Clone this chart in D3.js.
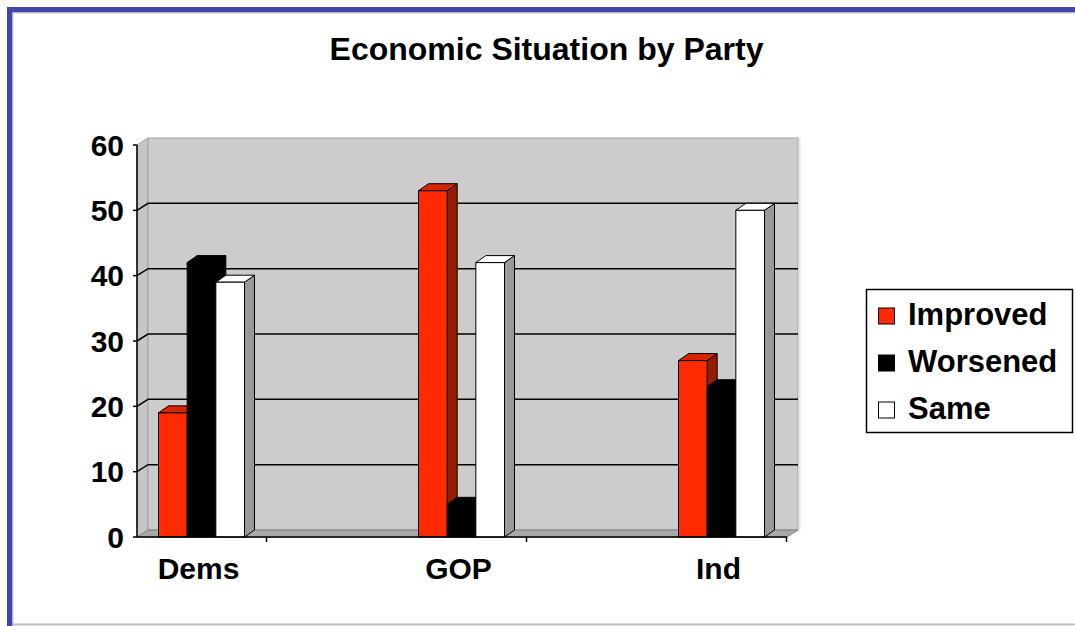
<!DOCTYPE html>
<html>
<head>
<meta charset="utf-8">
<script src="https://cdn.jsdelivr.net/npm/d3@7"></script>
<style>
  body { margin: 0; background: #fff; }
  text { font-family: "Liberation Sans", Arial, sans-serif; font-weight: bold; fill: #000; }
</style>
</head>
<body>
<div id="chart"></div>
<script>
// data
const categories = ["Dems", "GOP", "Ind"];
const seriesNames = ["Improved", "Worsened", "Same"];
const improved = [19, 53, 27];
const worsened = [42, 5, 23];
const same = [39, 42, 50];
const yTicks = [0, 10, 20, 30, 40, 50, 60];
const title = "Economic Situation by Party";

// colours for each series: front, top, side
const seriesColors = [
  { front: "#ff2a00", top: "#d92400", side: "#941c00" },
  { front: "#000000", top: "#000000", side: "#000000" },
  { front: "#ffffff", top: "#ffffff", side: "#999999" }
];

const series = seriesNames.map((name, i) => ({
  name: name,
  values: [improved, worsened, same][i],
  color: seriesColors[i]
}));

const width = 1075;
const height = 626;

const svg = d3.select("#chart").append("svg")
  .attr("width", width)
  .attr("height", height);

// frame of the picture
svg.append("rect").attr("width", width).attr("height", height).attr("fill", "#fff");
svg.append("rect").attr("x", 7).attr("y", 7).attr("width", width - 7).attr("height", 5.5).attr("fill", "#4047a8");
svg.append("rect").attr("x", 7).attr("y", 7).attr("width", 5.5).attr("height", height - 7).attr("fill", "#4047a8");
svg.append("line").attr("x1", 12.5).attr("x2", width).attr("y1", 13).attr("y2", 13).attr("stroke", "#c4c4c4").attr("stroke-width", 1);
svg.append("line").attr("x1", 13).attr("x2", 13).attr("y1", 12.5).attr("y2", height).attr("stroke", "#c4c4c4").attr("stroke-width", 1);
svg.append("line").attr("x1", 12.5).attr("x2", width).attr("y1", 624.5).attr("y2", 624.5).attr("stroke", "#bdbdbd").attr("stroke-width", 2);

// title
svg.append("text")
  .attr("x", 546.5)
  .attr("y", 60)
  .attr("text-anchor", "middle")
  .style("font-size", "32px")
  .text(title);

// scales (front plane of the 3d box)
const x0 = 137, x1 = 787;
const x = d3.scalePoint().domain(categories).range([201.5, 721.5]);
const xs = d3.scaleBand().domain(seriesNames).range([-43, 43]);
const y = d3.scaleLinear().domain([0, 60]).range([537, 145]);

// depth of the box and of the bars
const dx = 11, dy = -7;
const bdx = 10, bdy = -7;

const pts = p => p.map(d => d.join(",")).join(" ");
const yTop = y(yTicks[yTicks.length - 1]);
const y0 = y(0);

// left side wall
svg.append("polygon")
  .attr("points", pts([[x0, y0], [x0, yTop], [x0 + dx, yTop + dy], [x0 + dx, y0 + dy]]))
  .attr("fill", "#c6c6c6")
  .attr("stroke", "#a0a0a0");

// back wall
svg.append("rect")
  .attr("x", x0 + dx)
  .attr("y", yTop + dy)
  .attr("width", x1 - x0)
  .attr("height", y0 - yTop)
  .attr("fill", "#cccccc")
  .attr("stroke", "#a0a0a0");
svg.append("line")
  .attr("x1", x1 + dx + 1.5).attr("x2", x1 + dx + 1.5)
  .attr("y1", yTop + dy).attr("y2", y0 + dy)
  .attr("stroke", "#e0e0e0").attr("stroke-width", 2);

// floor
svg.append("polygon")
  .attr("points", pts([[x0, y0], [x1, y0], [x1 + dx, y0 + dy], [x0 + dx, y0 + dy]]))
  .attr("fill", "#a8a8a8")
  .attr("stroke", "#808080");

// gridlines on side wall and back wall
svg.selectAll(".grid")
  .data(yTicks.filter(t => t > 0 && t < 60))
  .enter().append("polyline")
  .attr("class", "grid")
  .attr("points", t => pts([[x0, y(t)], [x0 + dx, y(t) + dy], [x1 + dx, y(t) + dy]]))
  .attr("fill", "none")
  .attr("stroke", "#000")
  .attr("stroke-width", 1.5);

// y axis
svg.append("line")
  .attr("x1", x0).attr("x2", x0)
  .attr("y1", y0).attr("y2", yTop)
  .attr("stroke", "#000").attr("stroke-width", 1.5);
svg.selectAll(".ytick")
  .data(yTicks)
  .enter().append("line")
  .attr("x1", x0 - 4).attr("x2", x0)
  .attr("y1", d => y(d)).attr("y2", d => y(d))
  .attr("stroke", "#000").attr("stroke-width", 1.5);
svg.selectAll(".ylabel")
  .data(yTicks)
  .enter().append("text")
  .attr("x", 124)
  .attr("y", d => y(d))
  .attr("dy", "0.36em")
  .attr("text-anchor", "end")
  .style("font-size", "30px")
  .text(d => d);

// bars, group by group, left to right so neighbours hide the sides
const g = svg.append("g");
categories.forEach((c, ci) => {
  series.forEach(s => {
    const v = s.values[ci];
    const l = x(c) + xs(s.name);
    const r = l + xs.bandwidth();
    const t = y(v);
    const b = y(0);
    g.append("polygon")
      .attr("points", pts([[r, t], [r + bdx, t + bdy], [r + bdx, b + bdy], [r, b]]))
      .attr("fill", s.color.side)
      .attr("stroke", "#000").attr("stroke-width", 1);
    g.append("polygon")
      .attr("points", pts([[l, t], [l + bdx, t + bdy], [r + bdx, t + bdy], [r, t]]))
      .attr("fill", s.color.top)
      .attr("stroke", "#000").attr("stroke-width", 1);
    g.append("rect")
      .attr("x", l).attr("y", t)
      .attr("width", xs.bandwidth()).attr("height", b - t)
      .attr("fill", s.color.front)
      .attr("stroke", "#000").attr("stroke-width", 1);
  });
});

// x axis
svg.append("line")
  .attr("x1", x0).attr("x2", x1)
  .attr("y1", y0).attr("y2", y0)
  .attr("stroke", "#000").attr("stroke-width", 1.5);
svg.selectAll(".xtick")
  .data(categories)
  .enter().append("line")
  .attr("x1", d => x(d) + x.step() / 4).attr("x2", d => x(d) + x.step() / 4)
  .attr("y1", y0).attr("y2", y0 + 5)
  .attr("stroke", "#000").attr("stroke-width", 1.5);
svg.selectAll(".xlabel")
  .data(categories)
  .enter().append("text")
  .attr("x", d => x(d) - 3)
  .attr("y", 579)
  .attr("text-anchor", "middle")
  .style("font-size", "30px")
  .text(d => d);

// legend
const legend = svg.append("g").attr("transform", "translate(866.5,289.5)");
legend.append("rect")
  .attr("width", 206).attr("height", 143)
  .attr("fill", "#fff")
  .attr("stroke", "#000").attr("stroke-width", 1.5);
const items = legend.selectAll(".item")
  .data(series)
  .enter().append("g")
  .attr("transform", (d, i) => `translate(0,${35.5 + i * 47})`);
items.append("rect")
  .attr("x", 12).attr("y", -17)
  .attr("width", 16).attr("height", 16)
  .attr("fill", d => d.color.front)
  .attr("stroke", "#000").attr("stroke-width", 1);
items.append("text")
  .attr("x", 41.5)
  .attr("y", 0)
  .style("font-size", "31px")
  .text(d => d.name);
</script>
</body>
</html>
